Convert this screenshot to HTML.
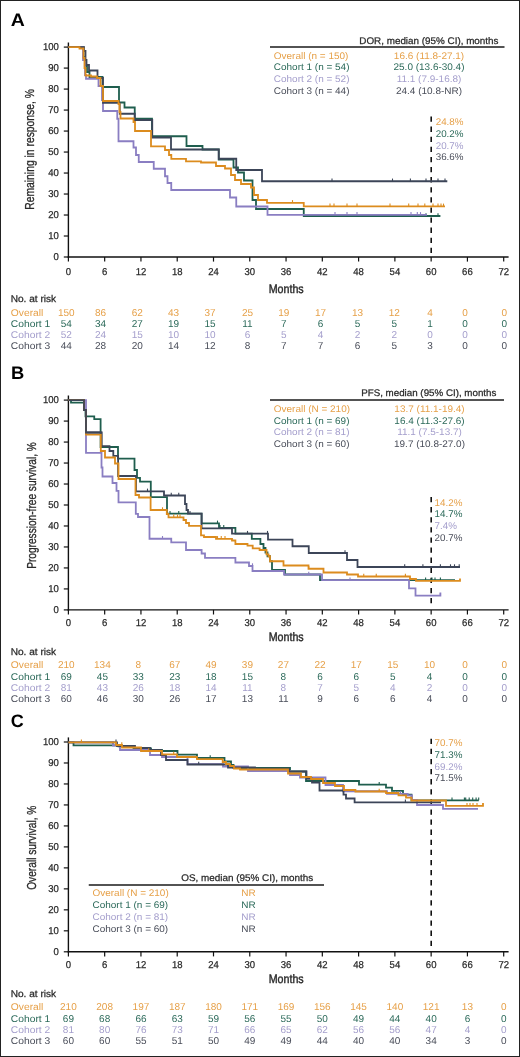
<!DOCTYPE html>
<html><head><meta charset="utf-8"><title>KM curves</title>
<style>
html,body{margin:0;padding:0;background:#fff;}
body{width:520px;height:1057px;overflow:hidden;}
svg{display:block;font-family:"Liberation Sans", sans-serif;will-change:transform;text-rendering:geometricPrecision;}
</style></head>
<body>
<svg width="520" height="1057" viewBox="0 0 520 1057">
<rect x="0.5" y="0.5" width="519" height="1056" fill="#fff" stroke="#222" stroke-width="1"/>
<text transform="translate(10.80 25.60) scale(1.08 1)" font-size="18" fill="#000" font-weight="bold">A</text>
<line x1="68.40" y1="42.50" x2="68.40" y2="257.65" stroke="#111" stroke-width="1.4"/>
<line x1="67.70" y1="257.00" x2="508.60" y2="257.00" stroke="#111" stroke-width="1.4"/>
<line x1="63.80" y1="257.00" x2="68.40" y2="257.00" stroke="#111" stroke-width="1.2"/>
<text x="58.80" y="260.30" font-size="10" fill="#2a2a2a" text-anchor="end" textLength="5.3" lengthAdjust="spacingAndGlyphs" stroke="#2a2a2a" stroke-width="0.25">0</text>
<line x1="63.80" y1="236.01" x2="68.40" y2="236.01" stroke="#111" stroke-width="1.2"/>
<text x="58.80" y="239.31" font-size="10" fill="#2a2a2a" text-anchor="end" textLength="10.6" lengthAdjust="spacingAndGlyphs" stroke="#2a2a2a" stroke-width="0.25">10</text>
<line x1="63.80" y1="215.02" x2="68.40" y2="215.02" stroke="#111" stroke-width="1.2"/>
<text x="58.80" y="218.32" font-size="10" fill="#2a2a2a" text-anchor="end" textLength="10.6" lengthAdjust="spacingAndGlyphs" stroke="#2a2a2a" stroke-width="0.25">20</text>
<line x1="63.80" y1="194.03" x2="68.40" y2="194.03" stroke="#111" stroke-width="1.2"/>
<text x="58.80" y="197.33" font-size="10" fill="#2a2a2a" text-anchor="end" textLength="10.6" lengthAdjust="spacingAndGlyphs" stroke="#2a2a2a" stroke-width="0.25">30</text>
<line x1="63.80" y1="173.04" x2="68.40" y2="173.04" stroke="#111" stroke-width="1.2"/>
<text x="58.80" y="176.34" font-size="10" fill="#2a2a2a" text-anchor="end" textLength="10.6" lengthAdjust="spacingAndGlyphs" stroke="#2a2a2a" stroke-width="0.25">40</text>
<line x1="63.80" y1="152.05" x2="68.40" y2="152.05" stroke="#111" stroke-width="1.2"/>
<text x="58.80" y="155.35" font-size="10" fill="#2a2a2a" text-anchor="end" textLength="10.6" lengthAdjust="spacingAndGlyphs" stroke="#2a2a2a" stroke-width="0.25">50</text>
<line x1="63.80" y1="131.06" x2="68.40" y2="131.06" stroke="#111" stroke-width="1.2"/>
<text x="58.80" y="134.36" font-size="10" fill="#2a2a2a" text-anchor="end" textLength="10.6" lengthAdjust="spacingAndGlyphs" stroke="#2a2a2a" stroke-width="0.25">60</text>
<line x1="63.80" y1="110.07" x2="68.40" y2="110.07" stroke="#111" stroke-width="1.2"/>
<text x="58.80" y="113.37" font-size="10" fill="#2a2a2a" text-anchor="end" textLength="10.6" lengthAdjust="spacingAndGlyphs" stroke="#2a2a2a" stroke-width="0.25">70</text>
<line x1="63.80" y1="89.08" x2="68.40" y2="89.08" stroke="#111" stroke-width="1.2"/>
<text x="58.80" y="92.38" font-size="10" fill="#2a2a2a" text-anchor="end" textLength="10.6" lengthAdjust="spacingAndGlyphs" stroke="#2a2a2a" stroke-width="0.25">80</text>
<line x1="63.80" y1="68.09" x2="68.40" y2="68.09" stroke="#111" stroke-width="1.2"/>
<text x="58.80" y="71.39" font-size="10" fill="#2a2a2a" text-anchor="end" textLength="10.6" lengthAdjust="spacingAndGlyphs" stroke="#2a2a2a" stroke-width="0.25">90</text>
<line x1="63.80" y1="47.10" x2="68.40" y2="47.10" stroke="#111" stroke-width="1.2"/>
<text x="58.80" y="50.40" font-size="10" fill="#2a2a2a" text-anchor="end" textLength="15.899999999999999" lengthAdjust="spacingAndGlyphs" stroke="#2a2a2a" stroke-width="0.25">100</text>
<line x1="68.40" y1="257.00" x2="68.40" y2="261.60" stroke="#111" stroke-width="1.2"/>
<text x="68.40" y="274.90" font-size="10" fill="#2a2a2a" text-anchor="middle" textLength="5.3" lengthAdjust="spacingAndGlyphs" stroke="#2a2a2a" stroke-width="0.25">0</text>
<line x1="104.67" y1="257.00" x2="104.67" y2="261.60" stroke="#111" stroke-width="1.2"/>
<text x="104.67" y="274.90" font-size="10" fill="#2a2a2a" text-anchor="middle" textLength="5.3" lengthAdjust="spacingAndGlyphs" stroke="#2a2a2a" stroke-width="0.25">6</text>
<line x1="140.95" y1="257.00" x2="140.95" y2="261.60" stroke="#111" stroke-width="1.2"/>
<text x="140.95" y="274.90" font-size="10" fill="#2a2a2a" text-anchor="middle" textLength="10.6" lengthAdjust="spacingAndGlyphs" stroke="#2a2a2a" stroke-width="0.25">12</text>
<line x1="177.22" y1="257.00" x2="177.22" y2="261.60" stroke="#111" stroke-width="1.2"/>
<text x="177.22" y="274.90" font-size="10" fill="#2a2a2a" text-anchor="middle" textLength="10.6" lengthAdjust="spacingAndGlyphs" stroke="#2a2a2a" stroke-width="0.25">18</text>
<line x1="213.50" y1="257.00" x2="213.50" y2="261.60" stroke="#111" stroke-width="1.2"/>
<text x="213.50" y="274.90" font-size="10" fill="#2a2a2a" text-anchor="middle" textLength="10.6" lengthAdjust="spacingAndGlyphs" stroke="#2a2a2a" stroke-width="0.25">24</text>
<line x1="249.77" y1="257.00" x2="249.77" y2="261.60" stroke="#111" stroke-width="1.2"/>
<text x="249.77" y="274.90" font-size="10" fill="#2a2a2a" text-anchor="middle" textLength="10.6" lengthAdjust="spacingAndGlyphs" stroke="#2a2a2a" stroke-width="0.25">30</text>
<line x1="286.05" y1="257.00" x2="286.05" y2="261.60" stroke="#111" stroke-width="1.2"/>
<text x="286.05" y="274.90" font-size="10" fill="#2a2a2a" text-anchor="middle" textLength="10.6" lengthAdjust="spacingAndGlyphs" stroke="#2a2a2a" stroke-width="0.25">36</text>
<line x1="322.32" y1="257.00" x2="322.32" y2="261.60" stroke="#111" stroke-width="1.2"/>
<text x="322.32" y="274.90" font-size="10" fill="#2a2a2a" text-anchor="middle" textLength="10.6" lengthAdjust="spacingAndGlyphs" stroke="#2a2a2a" stroke-width="0.25">42</text>
<line x1="358.60" y1="257.00" x2="358.60" y2="261.60" stroke="#111" stroke-width="1.2"/>
<text x="358.60" y="274.90" font-size="10" fill="#2a2a2a" text-anchor="middle" textLength="10.6" lengthAdjust="spacingAndGlyphs" stroke="#2a2a2a" stroke-width="0.25">48</text>
<line x1="394.88" y1="257.00" x2="394.88" y2="261.60" stroke="#111" stroke-width="1.2"/>
<text x="394.88" y="274.90" font-size="10" fill="#2a2a2a" text-anchor="middle" textLength="10.6" lengthAdjust="spacingAndGlyphs" stroke="#2a2a2a" stroke-width="0.25">54</text>
<line x1="431.15" y1="257.00" x2="431.15" y2="261.60" stroke="#111" stroke-width="1.2"/>
<text x="431.15" y="274.90" font-size="10" fill="#2a2a2a" text-anchor="middle" textLength="10.6" lengthAdjust="spacingAndGlyphs" stroke="#2a2a2a" stroke-width="0.25">60</text>
<line x1="467.42" y1="257.00" x2="467.42" y2="261.60" stroke="#111" stroke-width="1.2"/>
<text x="467.42" y="274.90" font-size="10" fill="#2a2a2a" text-anchor="middle" textLength="10.6" lengthAdjust="spacingAndGlyphs" stroke="#2a2a2a" stroke-width="0.25">66</text>
<line x1="503.70" y1="257.00" x2="503.70" y2="261.60" stroke="#111" stroke-width="1.2"/>
<text x="503.70" y="274.90" font-size="10" fill="#2a2a2a" text-anchor="middle" textLength="10.6" lengthAdjust="spacingAndGlyphs" stroke="#2a2a2a" stroke-width="0.25">72</text>
<text x="286.20" y="293.00" font-size="12.3" fill="#2a2a2a" text-anchor="middle" textLength="35" lengthAdjust="spacingAndGlyphs" stroke="#2a2a2a" stroke-width="0.4">Months</text>
<text x="0" y="0" font-size="13" fill="#2a2a2a" stroke="#2a2a2a" stroke-width="0.3" textLength="120.8" lengthAdjust="spacingAndGlyphs" transform="translate(34.20,209.80) rotate(-90)">Remaining in response, %</text>
<line x1="270.00" y1="47.00" x2="504.50" y2="47.00" stroke="#1a1a1a" stroke-width="1.4"/>
<text x="428.90" y="43.50" font-size="9.6" fill="#2a2a2a" text-anchor="middle" textLength="139.2" lengthAdjust="spacingAndGlyphs" stroke="#2a2a2a" stroke-width="0.25">DOR, median (95% CI), months</text>
<text transform="translate(273.80 58.60) scale(1.05 1)" font-size="9.5" fill="#e6a048">Overall (n = 150)</text>
<text transform="translate(429.00 58.60) scale(1.05 1)" font-size="9.5" fill="#e6a048" text-anchor="middle">16.6 (11.8-27.1)</text>
<text transform="translate(273.80 70.30) scale(1.05 1)" font-size="9.5" fill="#2c6a5a">Cohort 1 (n = 54)</text>
<text transform="translate(429.00 70.30) scale(1.05 1)" font-size="9.5" fill="#2c6a5a" text-anchor="middle">25.0 (13.6-30.4)</text>
<text transform="translate(273.80 82.00) scale(1.05 1)" font-size="9.5" fill="#a49ecc">Cohort 2 (n = 52)</text>
<text transform="translate(429.00 82.00) scale(1.05 1)" font-size="9.5" fill="#a49ecc" text-anchor="middle">11.1 (7.9-16.8)</text>
<text transform="translate(273.80 93.70) scale(1.05 1)" font-size="9.5" fill="#4a4e5a">Cohort 3 (n = 44)</text>
<text transform="translate(429.00 93.70) scale(1.05 1)" font-size="9.5" fill="#4a4e5a" text-anchor="middle">24.4 (10.8-NR)</text>
<line x1="431.2" y1="116.5" x2="431.2" y2="253" stroke="#111" stroke-width="1.6" stroke-dasharray="5.3 4.8"/>
<text x="435.70" y="124.90" font-size="9.8" fill="#e6a048">24.8%</text>
<text x="435.70" y="136.70" font-size="9.8" fill="#2c6a5a">20.2%</text>
<text x="435.70" y="148.50" font-size="9.8" fill="#a49ecc">20.7%</text>
<text x="435.70" y="160.30" font-size="9.8" fill="#4a4e5a">36.6%</text>
<text transform="translate(10.90 378.50) scale(1.02 1)" font-size="18" fill="#000" font-weight="bold">B</text>
<line x1="68.40" y1="395.50" x2="68.40" y2="610.55" stroke="#111" stroke-width="1.4"/>
<line x1="67.70" y1="609.90" x2="508.60" y2="609.90" stroke="#111" stroke-width="1.4"/>
<line x1="63.80" y1="609.90" x2="68.40" y2="609.90" stroke="#111" stroke-width="1.2"/>
<text x="58.80" y="613.20" font-size="10" fill="#2a2a2a" text-anchor="end" textLength="5.3" lengthAdjust="spacingAndGlyphs" stroke="#2a2a2a" stroke-width="0.25">0</text>
<line x1="63.80" y1="588.92" x2="68.40" y2="588.92" stroke="#111" stroke-width="1.2"/>
<text x="58.80" y="592.22" font-size="10" fill="#2a2a2a" text-anchor="end" textLength="10.6" lengthAdjust="spacingAndGlyphs" stroke="#2a2a2a" stroke-width="0.25">10</text>
<line x1="63.80" y1="567.94" x2="68.40" y2="567.94" stroke="#111" stroke-width="1.2"/>
<text x="58.80" y="571.24" font-size="10" fill="#2a2a2a" text-anchor="end" textLength="10.6" lengthAdjust="spacingAndGlyphs" stroke="#2a2a2a" stroke-width="0.25">20</text>
<line x1="63.80" y1="546.96" x2="68.40" y2="546.96" stroke="#111" stroke-width="1.2"/>
<text x="58.80" y="550.26" font-size="10" fill="#2a2a2a" text-anchor="end" textLength="10.6" lengthAdjust="spacingAndGlyphs" stroke="#2a2a2a" stroke-width="0.25">30</text>
<line x1="63.80" y1="525.98" x2="68.40" y2="525.98" stroke="#111" stroke-width="1.2"/>
<text x="58.80" y="529.28" font-size="10" fill="#2a2a2a" text-anchor="end" textLength="10.6" lengthAdjust="spacingAndGlyphs" stroke="#2a2a2a" stroke-width="0.25">40</text>
<line x1="63.80" y1="505.00" x2="68.40" y2="505.00" stroke="#111" stroke-width="1.2"/>
<text x="58.80" y="508.30" font-size="10" fill="#2a2a2a" text-anchor="end" textLength="10.6" lengthAdjust="spacingAndGlyphs" stroke="#2a2a2a" stroke-width="0.25">50</text>
<line x1="63.80" y1="484.02" x2="68.40" y2="484.02" stroke="#111" stroke-width="1.2"/>
<text x="58.80" y="487.32" font-size="10" fill="#2a2a2a" text-anchor="end" textLength="10.6" lengthAdjust="spacingAndGlyphs" stroke="#2a2a2a" stroke-width="0.25">60</text>
<line x1="63.80" y1="463.04" x2="68.40" y2="463.04" stroke="#111" stroke-width="1.2"/>
<text x="58.80" y="466.34" font-size="10" fill="#2a2a2a" text-anchor="end" textLength="10.6" lengthAdjust="spacingAndGlyphs" stroke="#2a2a2a" stroke-width="0.25">70</text>
<line x1="63.80" y1="442.06" x2="68.40" y2="442.06" stroke="#111" stroke-width="1.2"/>
<text x="58.80" y="445.36" font-size="10" fill="#2a2a2a" text-anchor="end" textLength="10.6" lengthAdjust="spacingAndGlyphs" stroke="#2a2a2a" stroke-width="0.25">80</text>
<line x1="63.80" y1="421.08" x2="68.40" y2="421.08" stroke="#111" stroke-width="1.2"/>
<text x="58.80" y="424.38" font-size="10" fill="#2a2a2a" text-anchor="end" textLength="10.6" lengthAdjust="spacingAndGlyphs" stroke="#2a2a2a" stroke-width="0.25">90</text>
<line x1="63.80" y1="400.10" x2="68.40" y2="400.10" stroke="#111" stroke-width="1.2"/>
<text x="58.80" y="403.40" font-size="10" fill="#2a2a2a" text-anchor="end" textLength="15.899999999999999" lengthAdjust="spacingAndGlyphs" stroke="#2a2a2a" stroke-width="0.25">100</text>
<line x1="68.40" y1="609.90" x2="68.40" y2="614.50" stroke="#111" stroke-width="1.2"/>
<text x="68.40" y="626.10" font-size="10" fill="#2a2a2a" text-anchor="middle" textLength="5.3" lengthAdjust="spacingAndGlyphs" stroke="#2a2a2a" stroke-width="0.25">0</text>
<line x1="104.67" y1="609.90" x2="104.67" y2="614.50" stroke="#111" stroke-width="1.2"/>
<text x="104.67" y="626.10" font-size="10" fill="#2a2a2a" text-anchor="middle" textLength="5.3" lengthAdjust="spacingAndGlyphs" stroke="#2a2a2a" stroke-width="0.25">6</text>
<line x1="140.95" y1="609.90" x2="140.95" y2="614.50" stroke="#111" stroke-width="1.2"/>
<text x="140.95" y="626.10" font-size="10" fill="#2a2a2a" text-anchor="middle" textLength="10.6" lengthAdjust="spacingAndGlyphs" stroke="#2a2a2a" stroke-width="0.25">12</text>
<line x1="177.22" y1="609.90" x2="177.22" y2="614.50" stroke="#111" stroke-width="1.2"/>
<text x="177.22" y="626.10" font-size="10" fill="#2a2a2a" text-anchor="middle" textLength="10.6" lengthAdjust="spacingAndGlyphs" stroke="#2a2a2a" stroke-width="0.25">18</text>
<line x1="213.50" y1="609.90" x2="213.50" y2="614.50" stroke="#111" stroke-width="1.2"/>
<text x="213.50" y="626.10" font-size="10" fill="#2a2a2a" text-anchor="middle" textLength="10.6" lengthAdjust="spacingAndGlyphs" stroke="#2a2a2a" stroke-width="0.25">24</text>
<line x1="249.77" y1="609.90" x2="249.77" y2="614.50" stroke="#111" stroke-width="1.2"/>
<text x="249.77" y="626.10" font-size="10" fill="#2a2a2a" text-anchor="middle" textLength="10.6" lengthAdjust="spacingAndGlyphs" stroke="#2a2a2a" stroke-width="0.25">30</text>
<line x1="286.05" y1="609.90" x2="286.05" y2="614.50" stroke="#111" stroke-width="1.2"/>
<text x="286.05" y="626.10" font-size="10" fill="#2a2a2a" text-anchor="middle" textLength="10.6" lengthAdjust="spacingAndGlyphs" stroke="#2a2a2a" stroke-width="0.25">36</text>
<line x1="322.32" y1="609.90" x2="322.32" y2="614.50" stroke="#111" stroke-width="1.2"/>
<text x="322.32" y="626.10" font-size="10" fill="#2a2a2a" text-anchor="middle" textLength="10.6" lengthAdjust="spacingAndGlyphs" stroke="#2a2a2a" stroke-width="0.25">42</text>
<line x1="358.60" y1="609.90" x2="358.60" y2="614.50" stroke="#111" stroke-width="1.2"/>
<text x="358.60" y="626.10" font-size="10" fill="#2a2a2a" text-anchor="middle" textLength="10.6" lengthAdjust="spacingAndGlyphs" stroke="#2a2a2a" stroke-width="0.25">48</text>
<line x1="394.88" y1="609.90" x2="394.88" y2="614.50" stroke="#111" stroke-width="1.2"/>
<text x="394.88" y="626.10" font-size="10" fill="#2a2a2a" text-anchor="middle" textLength="10.6" lengthAdjust="spacingAndGlyphs" stroke="#2a2a2a" stroke-width="0.25">54</text>
<line x1="431.15" y1="609.90" x2="431.15" y2="614.50" stroke="#111" stroke-width="1.2"/>
<text x="431.15" y="626.10" font-size="10" fill="#2a2a2a" text-anchor="middle" textLength="10.6" lengthAdjust="spacingAndGlyphs" stroke="#2a2a2a" stroke-width="0.25">60</text>
<line x1="467.42" y1="609.90" x2="467.42" y2="614.50" stroke="#111" stroke-width="1.2"/>
<text x="467.42" y="626.10" font-size="10" fill="#2a2a2a" text-anchor="middle" textLength="10.6" lengthAdjust="spacingAndGlyphs" stroke="#2a2a2a" stroke-width="0.25">66</text>
<line x1="503.70" y1="609.90" x2="503.70" y2="614.50" stroke="#111" stroke-width="1.2"/>
<text x="503.70" y="626.10" font-size="10" fill="#2a2a2a" text-anchor="middle" textLength="10.6" lengthAdjust="spacingAndGlyphs" stroke="#2a2a2a" stroke-width="0.25">72</text>
<text x="286.20" y="640.70" font-size="12.3" fill="#2a2a2a" text-anchor="middle" textLength="35" lengthAdjust="spacingAndGlyphs" stroke="#2a2a2a" stroke-width="0.4">Months</text>
<text x="0" y="0" font-size="13" fill="#2a2a2a" stroke="#2a2a2a" stroke-width="0.3" textLength="126.6" lengthAdjust="spacingAndGlyphs" transform="translate(35.80,568.80) rotate(-90)">Progression-free survival, %</text>
<line x1="270.00" y1="400.00" x2="504.00" y2="400.00" stroke="#1a1a1a" stroke-width="1.4"/>
<text x="428.80" y="396.30" font-size="9.6" fill="#2a2a2a" text-anchor="middle" textLength="135.2" lengthAdjust="spacingAndGlyphs" stroke="#2a2a2a" stroke-width="0.25">PFS, median (95% CI), months</text>
<text transform="translate(273.80 411.80) scale(1.05 1)" font-size="9.5" fill="#e6a048">Overall (N = 210)</text>
<text transform="translate(429.50 411.80) scale(1.05 1)" font-size="9.5" fill="#e6a048" text-anchor="middle">13.7 (11.1-19.4)</text>
<text transform="translate(273.80 423.50) scale(1.05 1)" font-size="9.5" fill="#2c6a5a">Cohort 1 (n = 69)</text>
<text transform="translate(429.50 423.50) scale(1.05 1)" font-size="9.5" fill="#2c6a5a" text-anchor="middle">16.4 (11.3-27.6)</text>
<text transform="translate(273.80 435.20) scale(1.05 1)" font-size="9.5" fill="#a49ecc">Cohort 2 (n = 81)</text>
<text transform="translate(429.50 435.20) scale(1.05 1)" font-size="9.5" fill="#a49ecc" text-anchor="middle">11.1 (7.5-13.7)</text>
<text transform="translate(273.80 446.90) scale(1.05 1)" font-size="9.5" fill="#4a4e5a">Cohort 3 (n = 60)</text>
<text transform="translate(429.50 446.90) scale(1.05 1)" font-size="9.5" fill="#4a4e5a" text-anchor="middle">19.7 (10.8-27.0)</text>
<line x1="431.2" y1="497.0" x2="431.2" y2="606" stroke="#111" stroke-width="1.6" stroke-dasharray="5.3 4.8"/>
<text x="434.60" y="505.50" font-size="9.8" fill="#e6a048">14.2%</text>
<text x="434.60" y="517.40" font-size="9.8" fill="#2c6a5a">14.7%</text>
<text x="434.60" y="529.30" font-size="9.8" fill="#a49ecc">7.4%</text>
<text x="434.60" y="541.20" font-size="9.8" fill="#4a4e5a">20.7%</text>
<text transform="translate(10.70 727.30) scale(1.0 1)" font-size="18" fill="#000" font-weight="bold">C</text>
<line x1="68.40" y1="737.40" x2="68.40" y2="952.45" stroke="#111" stroke-width="1.4"/>
<line x1="67.70" y1="951.80" x2="508.60" y2="951.80" stroke="#111" stroke-width="1.4"/>
<line x1="63.80" y1="951.80" x2="68.40" y2="951.80" stroke="#111" stroke-width="1.2"/>
<text x="58.80" y="955.10" font-size="10" fill="#2a2a2a" text-anchor="end" textLength="5.3" lengthAdjust="spacingAndGlyphs" stroke="#2a2a2a" stroke-width="0.25">0</text>
<line x1="63.80" y1="930.82" x2="68.40" y2="930.82" stroke="#111" stroke-width="1.2"/>
<text x="58.80" y="934.12" font-size="10" fill="#2a2a2a" text-anchor="end" textLength="10.6" lengthAdjust="spacingAndGlyphs" stroke="#2a2a2a" stroke-width="0.25">10</text>
<line x1="63.80" y1="909.84" x2="68.40" y2="909.84" stroke="#111" stroke-width="1.2"/>
<text x="58.80" y="913.14" font-size="10" fill="#2a2a2a" text-anchor="end" textLength="10.6" lengthAdjust="spacingAndGlyphs" stroke="#2a2a2a" stroke-width="0.25">20</text>
<line x1="63.80" y1="888.86" x2="68.40" y2="888.86" stroke="#111" stroke-width="1.2"/>
<text x="58.80" y="892.16" font-size="10" fill="#2a2a2a" text-anchor="end" textLength="10.6" lengthAdjust="spacingAndGlyphs" stroke="#2a2a2a" stroke-width="0.25">30</text>
<line x1="63.80" y1="867.88" x2="68.40" y2="867.88" stroke="#111" stroke-width="1.2"/>
<text x="58.80" y="871.18" font-size="10" fill="#2a2a2a" text-anchor="end" textLength="10.6" lengthAdjust="spacingAndGlyphs" stroke="#2a2a2a" stroke-width="0.25">40</text>
<line x1="63.80" y1="846.90" x2="68.40" y2="846.90" stroke="#111" stroke-width="1.2"/>
<text x="58.80" y="850.20" font-size="10" fill="#2a2a2a" text-anchor="end" textLength="10.6" lengthAdjust="spacingAndGlyphs" stroke="#2a2a2a" stroke-width="0.25">50</text>
<line x1="63.80" y1="825.92" x2="68.40" y2="825.92" stroke="#111" stroke-width="1.2"/>
<text x="58.80" y="829.22" font-size="10" fill="#2a2a2a" text-anchor="end" textLength="10.6" lengthAdjust="spacingAndGlyphs" stroke="#2a2a2a" stroke-width="0.25">60</text>
<line x1="63.80" y1="804.94" x2="68.40" y2="804.94" stroke="#111" stroke-width="1.2"/>
<text x="58.80" y="808.24" font-size="10" fill="#2a2a2a" text-anchor="end" textLength="10.6" lengthAdjust="spacingAndGlyphs" stroke="#2a2a2a" stroke-width="0.25">70</text>
<line x1="63.80" y1="783.96" x2="68.40" y2="783.96" stroke="#111" stroke-width="1.2"/>
<text x="58.80" y="787.26" font-size="10" fill="#2a2a2a" text-anchor="end" textLength="10.6" lengthAdjust="spacingAndGlyphs" stroke="#2a2a2a" stroke-width="0.25">80</text>
<line x1="63.80" y1="762.98" x2="68.40" y2="762.98" stroke="#111" stroke-width="1.2"/>
<text x="58.80" y="766.28" font-size="10" fill="#2a2a2a" text-anchor="end" textLength="10.6" lengthAdjust="spacingAndGlyphs" stroke="#2a2a2a" stroke-width="0.25">90</text>
<line x1="63.80" y1="742.00" x2="68.40" y2="742.00" stroke="#111" stroke-width="1.2"/>
<text x="58.80" y="745.30" font-size="10" fill="#2a2a2a" text-anchor="end" textLength="15.899999999999999" lengthAdjust="spacingAndGlyphs" stroke="#2a2a2a" stroke-width="0.25">100</text>
<line x1="68.40" y1="951.80" x2="68.40" y2="956.40" stroke="#111" stroke-width="1.2"/>
<text x="68.40" y="967.50" font-size="10" fill="#2a2a2a" text-anchor="middle" textLength="5.3" lengthAdjust="spacingAndGlyphs" stroke="#2a2a2a" stroke-width="0.25">0</text>
<line x1="104.67" y1="951.80" x2="104.67" y2="956.40" stroke="#111" stroke-width="1.2"/>
<text x="104.67" y="967.50" font-size="10" fill="#2a2a2a" text-anchor="middle" textLength="5.3" lengthAdjust="spacingAndGlyphs" stroke="#2a2a2a" stroke-width="0.25">6</text>
<line x1="140.95" y1="951.80" x2="140.95" y2="956.40" stroke="#111" stroke-width="1.2"/>
<text x="140.95" y="967.50" font-size="10" fill="#2a2a2a" text-anchor="middle" textLength="10.6" lengthAdjust="spacingAndGlyphs" stroke="#2a2a2a" stroke-width="0.25">12</text>
<line x1="177.22" y1="951.80" x2="177.22" y2="956.40" stroke="#111" stroke-width="1.2"/>
<text x="177.22" y="967.50" font-size="10" fill="#2a2a2a" text-anchor="middle" textLength="10.6" lengthAdjust="spacingAndGlyphs" stroke="#2a2a2a" stroke-width="0.25">18</text>
<line x1="213.50" y1="951.80" x2="213.50" y2="956.40" stroke="#111" stroke-width="1.2"/>
<text x="213.50" y="967.50" font-size="10" fill="#2a2a2a" text-anchor="middle" textLength="10.6" lengthAdjust="spacingAndGlyphs" stroke="#2a2a2a" stroke-width="0.25">24</text>
<line x1="249.77" y1="951.80" x2="249.77" y2="956.40" stroke="#111" stroke-width="1.2"/>
<text x="249.77" y="967.50" font-size="10" fill="#2a2a2a" text-anchor="middle" textLength="10.6" lengthAdjust="spacingAndGlyphs" stroke="#2a2a2a" stroke-width="0.25">30</text>
<line x1="286.05" y1="951.80" x2="286.05" y2="956.40" stroke="#111" stroke-width="1.2"/>
<text x="286.05" y="967.50" font-size="10" fill="#2a2a2a" text-anchor="middle" textLength="10.6" lengthAdjust="spacingAndGlyphs" stroke="#2a2a2a" stroke-width="0.25">36</text>
<line x1="322.32" y1="951.80" x2="322.32" y2="956.40" stroke="#111" stroke-width="1.2"/>
<text x="322.32" y="967.50" font-size="10" fill="#2a2a2a" text-anchor="middle" textLength="10.6" lengthAdjust="spacingAndGlyphs" stroke="#2a2a2a" stroke-width="0.25">42</text>
<line x1="358.60" y1="951.80" x2="358.60" y2="956.40" stroke="#111" stroke-width="1.2"/>
<text x="358.60" y="967.50" font-size="10" fill="#2a2a2a" text-anchor="middle" textLength="10.6" lengthAdjust="spacingAndGlyphs" stroke="#2a2a2a" stroke-width="0.25">48</text>
<line x1="394.88" y1="951.80" x2="394.88" y2="956.40" stroke="#111" stroke-width="1.2"/>
<text x="394.88" y="967.50" font-size="10" fill="#2a2a2a" text-anchor="middle" textLength="10.6" lengthAdjust="spacingAndGlyphs" stroke="#2a2a2a" stroke-width="0.25">54</text>
<line x1="431.15" y1="951.80" x2="431.15" y2="956.40" stroke="#111" stroke-width="1.2"/>
<text x="431.15" y="967.50" font-size="10" fill="#2a2a2a" text-anchor="middle" textLength="10.6" lengthAdjust="spacingAndGlyphs" stroke="#2a2a2a" stroke-width="0.25">60</text>
<line x1="467.42" y1="951.80" x2="467.42" y2="956.40" stroke="#111" stroke-width="1.2"/>
<text x="467.42" y="967.50" font-size="10" fill="#2a2a2a" text-anchor="middle" textLength="10.6" lengthAdjust="spacingAndGlyphs" stroke="#2a2a2a" stroke-width="0.25">66</text>
<line x1="503.70" y1="951.80" x2="503.70" y2="956.40" stroke="#111" stroke-width="1.2"/>
<text x="503.70" y="967.50" font-size="10" fill="#2a2a2a" text-anchor="middle" textLength="10.6" lengthAdjust="spacingAndGlyphs" stroke="#2a2a2a" stroke-width="0.25">72</text>
<text x="286.20" y="983.00" font-size="12.3" fill="#2a2a2a" text-anchor="middle" textLength="35" lengthAdjust="spacingAndGlyphs" stroke="#2a2a2a" stroke-width="0.4">Months</text>
<text x="0" y="0" font-size="13" fill="#2a2a2a" stroke="#2a2a2a" stroke-width="0.3" textLength="84.2" lengthAdjust="spacingAndGlyphs" transform="translate(36.40,889.80) rotate(-90)">Overall survival, %</text>
<line x1="88.75" y1="885.00" x2="324.00" y2="885.00" stroke="#1a1a1a" stroke-width="1.4"/>
<text x="247.20" y="881.30" font-size="9.6" fill="#2a2a2a" text-anchor="middle" textLength="132.0" lengthAdjust="spacingAndGlyphs" stroke="#2a2a2a" stroke-width="0.25">OS, median (95% CI), months</text>
<text transform="translate(92.50 896.30) scale(1.05 1)" font-size="9.5" fill="#e6a048">Overall (N = 210)</text>
<text transform="translate(248.50 896.30) scale(1.05 1)" font-size="9.5" fill="#e6a048" text-anchor="middle">NR</text>
<text transform="translate(92.50 908.20) scale(1.05 1)" font-size="9.5" fill="#2c6a5a">Cohort 1 (n = 69)</text>
<text transform="translate(248.50 908.20) scale(1.05 1)" font-size="9.5" fill="#2c6a5a" text-anchor="middle">NR</text>
<text transform="translate(92.50 920.10) scale(1.05 1)" font-size="9.5" fill="#a49ecc">Cohort 2 (n = 81)</text>
<text transform="translate(248.50 920.10) scale(1.05 1)" font-size="9.5" fill="#a49ecc" text-anchor="middle">NR</text>
<text transform="translate(92.50 932.00) scale(1.05 1)" font-size="9.5" fill="#4a4e5a">Cohort 3 (n = 60)</text>
<text transform="translate(248.50 932.00) scale(1.05 1)" font-size="9.5" fill="#4a4e5a" text-anchor="middle">NR</text>
<line x1="431.2" y1="738.7" x2="431.2" y2="948" stroke="#111" stroke-width="1.6" stroke-dasharray="5.3 4.8"/>
<text x="434.60" y="746.30" font-size="9.8" fill="#e6a048">70.7%</text>
<text x="434.60" y="757.95" font-size="9.8" fill="#2c6a5a">71.3%</text>
<text x="434.60" y="769.60" font-size="9.8" fill="#a49ecc">69.2%</text>
<text x="434.60" y="781.25" font-size="9.8" fill="#4a4e5a">71.5%</text>
<text x="10.70" y="301.80" font-size="9.8" fill="#2a2a2a" textLength="45.5" lengthAdjust="spacingAndGlyphs" stroke="#2a2a2a" stroke-width="0.25">No. at risk</text>
<text transform="translate(10.80 315.60) scale(1.05 1)" font-size="9.8" fill="#e6a048">Overall</text>
<text x="66.30" y="315.60" font-size="10" fill="#e6a048" text-anchor="middle">150</text>
<text x="100.50" y="315.60" font-size="10" fill="#e6a048" text-anchor="middle">86</text>
<text x="137.20" y="315.60" font-size="10" fill="#e6a048" text-anchor="middle">62</text>
<text x="173.60" y="315.60" font-size="10" fill="#e6a048" text-anchor="middle">43</text>
<text x="210.10" y="315.60" font-size="10" fill="#e6a048" text-anchor="middle">37</text>
<text x="247.50" y="315.60" font-size="10" fill="#e6a048" text-anchor="middle">25</text>
<text x="283.80" y="315.60" font-size="10" fill="#e6a048" text-anchor="middle">19</text>
<text x="320.50" y="315.60" font-size="10" fill="#e6a048" text-anchor="middle">17</text>
<text x="357.50" y="315.60" font-size="10" fill="#e6a048" text-anchor="middle">13</text>
<text x="394.20" y="315.60" font-size="10" fill="#e6a048" text-anchor="middle">12</text>
<text x="430.10" y="315.60" font-size="10" fill="#e6a048" text-anchor="middle">4</text>
<text x="465.10" y="315.60" font-size="10" fill="#e6a048" text-anchor="middle">0</text>
<text x="504.20" y="315.60" font-size="10" fill="#e6a048" text-anchor="middle">0</text>
<text transform="translate(10.80 326.80) scale(1.05 1)" font-size="9.8" fill="#2c6a5a">Cohort 1</text>
<text x="66.30" y="326.80" font-size="10" fill="#2c6a5a" text-anchor="middle">54</text>
<text x="100.50" y="326.80" font-size="10" fill="#2c6a5a" text-anchor="middle">34</text>
<text x="137.20" y="326.80" font-size="10" fill="#2c6a5a" text-anchor="middle">27</text>
<text x="173.60" y="326.80" font-size="10" fill="#2c6a5a" text-anchor="middle">19</text>
<text x="210.10" y="326.80" font-size="10" fill="#2c6a5a" text-anchor="middle">15</text>
<text x="247.50" y="326.80" font-size="10" fill="#2c6a5a" text-anchor="middle">11</text>
<text x="283.80" y="326.80" font-size="10" fill="#2c6a5a" text-anchor="middle">7</text>
<text x="320.50" y="326.80" font-size="10" fill="#2c6a5a" text-anchor="middle">6</text>
<text x="357.50" y="326.80" font-size="10" fill="#2c6a5a" text-anchor="middle">5</text>
<text x="394.20" y="326.80" font-size="10" fill="#2c6a5a" text-anchor="middle">5</text>
<text x="430.10" y="326.80" font-size="10" fill="#2c6a5a" text-anchor="middle">1</text>
<text x="465.10" y="326.80" font-size="10" fill="#2c6a5a" text-anchor="middle">0</text>
<text x="504.20" y="326.80" font-size="10" fill="#2c6a5a" text-anchor="middle">0</text>
<text transform="translate(10.80 338.00) scale(1.05 1)" font-size="9.8" fill="#a49ecc">Cohort 2</text>
<text x="66.30" y="338.00" font-size="10" fill="#a49ecc" text-anchor="middle">52</text>
<text x="100.50" y="338.00" font-size="10" fill="#a49ecc" text-anchor="middle">24</text>
<text x="137.20" y="338.00" font-size="10" fill="#a49ecc" text-anchor="middle">15</text>
<text x="173.60" y="338.00" font-size="10" fill="#a49ecc" text-anchor="middle">10</text>
<text x="210.10" y="338.00" font-size="10" fill="#a49ecc" text-anchor="middle">10</text>
<text x="247.50" y="338.00" font-size="10" fill="#a49ecc" text-anchor="middle">6</text>
<text x="283.80" y="338.00" font-size="10" fill="#a49ecc" text-anchor="middle">5</text>
<text x="320.50" y="338.00" font-size="10" fill="#a49ecc" text-anchor="middle">4</text>
<text x="357.50" y="338.00" font-size="10" fill="#a49ecc" text-anchor="middle">2</text>
<text x="394.20" y="338.00" font-size="10" fill="#a49ecc" text-anchor="middle">2</text>
<text x="430.10" y="338.00" font-size="10" fill="#a49ecc" text-anchor="middle">0</text>
<text x="465.10" y="338.00" font-size="10" fill="#a49ecc" text-anchor="middle">0</text>
<text x="504.20" y="338.00" font-size="10" fill="#a49ecc" text-anchor="middle">0</text>
<text transform="translate(10.80 349.20) scale(1.05 1)" font-size="9.8" fill="#4a4e5a">Cohort 3</text>
<text x="66.30" y="349.20" font-size="10" fill="#4a4e5a" text-anchor="middle">44</text>
<text x="100.50" y="349.20" font-size="10" fill="#4a4e5a" text-anchor="middle">28</text>
<text x="137.20" y="349.20" font-size="10" fill="#4a4e5a" text-anchor="middle">20</text>
<text x="173.60" y="349.20" font-size="10" fill="#4a4e5a" text-anchor="middle">14</text>
<text x="210.10" y="349.20" font-size="10" fill="#4a4e5a" text-anchor="middle">12</text>
<text x="247.50" y="349.20" font-size="10" fill="#4a4e5a" text-anchor="middle">8</text>
<text x="283.80" y="349.20" font-size="10" fill="#4a4e5a" text-anchor="middle">7</text>
<text x="320.50" y="349.20" font-size="10" fill="#4a4e5a" text-anchor="middle">7</text>
<text x="357.50" y="349.20" font-size="10" fill="#4a4e5a" text-anchor="middle">6</text>
<text x="394.20" y="349.20" font-size="10" fill="#4a4e5a" text-anchor="middle">5</text>
<text x="430.10" y="349.20" font-size="10" fill="#4a4e5a" text-anchor="middle">3</text>
<text x="465.10" y="349.20" font-size="10" fill="#4a4e5a" text-anchor="middle">0</text>
<text x="504.20" y="349.20" font-size="10" fill="#4a4e5a" text-anchor="middle">0</text>
<text x="10.70" y="655.00" font-size="9.8" fill="#2a2a2a" textLength="45.5" lengthAdjust="spacingAndGlyphs" stroke="#2a2a2a" stroke-width="0.25">No. at risk</text>
<text transform="translate(10.80 668.30) scale(1.05 1)" font-size="9.8" fill="#e6a048">Overall</text>
<text x="66.30" y="668.30" font-size="10" fill="#e6a048" text-anchor="middle">210</text>
<text x="102.40" y="668.30" font-size="10" fill="#e6a048" text-anchor="middle">134</text>
<text x="138.30" y="668.30" font-size="10" fill="#e6a048" text-anchor="middle">8</text>
<text x="174.80" y="668.30" font-size="10" fill="#e6a048" text-anchor="middle">67</text>
<text x="211.10" y="668.30" font-size="10" fill="#e6a048" text-anchor="middle">49</text>
<text x="247.40" y="668.30" font-size="10" fill="#e6a048" text-anchor="middle">39</text>
<text x="283.40" y="668.30" font-size="10" fill="#e6a048" text-anchor="middle">27</text>
<text x="320.00" y="668.30" font-size="10" fill="#e6a048" text-anchor="middle">22</text>
<text x="356.30" y="668.30" font-size="10" fill="#e6a048" text-anchor="middle">17</text>
<text x="392.80" y="668.30" font-size="10" fill="#e6a048" text-anchor="middle">15</text>
<text x="429.50" y="668.30" font-size="10" fill="#e6a048" text-anchor="middle">10</text>
<text x="465.10" y="668.30" font-size="10" fill="#e6a048" text-anchor="middle">0</text>
<text x="504.20" y="668.30" font-size="10" fill="#e6a048" text-anchor="middle">0</text>
<text transform="translate(10.80 679.50) scale(1.05 1)" font-size="9.8" fill="#2c6a5a">Cohort 1</text>
<text x="66.30" y="679.50" font-size="10" fill="#2c6a5a" text-anchor="middle">69</text>
<text x="102.40" y="679.50" font-size="10" fill="#2c6a5a" text-anchor="middle">45</text>
<text x="138.30" y="679.50" font-size="10" fill="#2c6a5a" text-anchor="middle">33</text>
<text x="174.80" y="679.50" font-size="10" fill="#2c6a5a" text-anchor="middle">23</text>
<text x="211.10" y="679.50" font-size="10" fill="#2c6a5a" text-anchor="middle">18</text>
<text x="247.40" y="679.50" font-size="10" fill="#2c6a5a" text-anchor="middle">15</text>
<text x="283.40" y="679.50" font-size="10" fill="#2c6a5a" text-anchor="middle">8</text>
<text x="320.00" y="679.50" font-size="10" fill="#2c6a5a" text-anchor="middle">6</text>
<text x="356.30" y="679.50" font-size="10" fill="#2c6a5a" text-anchor="middle">6</text>
<text x="392.80" y="679.50" font-size="10" fill="#2c6a5a" text-anchor="middle">5</text>
<text x="429.50" y="679.50" font-size="10" fill="#2c6a5a" text-anchor="middle">4</text>
<text x="465.10" y="679.50" font-size="10" fill="#2c6a5a" text-anchor="middle">0</text>
<text x="504.20" y="679.50" font-size="10" fill="#2c6a5a" text-anchor="middle">0</text>
<text transform="translate(10.80 690.70) scale(1.05 1)" font-size="9.8" fill="#a49ecc">Cohort 2</text>
<text x="66.30" y="690.70" font-size="10" fill="#a49ecc" text-anchor="middle">81</text>
<text x="102.40" y="690.70" font-size="10" fill="#a49ecc" text-anchor="middle">43</text>
<text x="138.30" y="690.70" font-size="10" fill="#a49ecc" text-anchor="middle">26</text>
<text x="174.80" y="690.70" font-size="10" fill="#a49ecc" text-anchor="middle">18</text>
<text x="211.10" y="690.70" font-size="10" fill="#a49ecc" text-anchor="middle">14</text>
<text x="247.40" y="690.70" font-size="10" fill="#a49ecc" text-anchor="middle">11</text>
<text x="283.40" y="690.70" font-size="10" fill="#a49ecc" text-anchor="middle">8</text>
<text x="320.00" y="690.70" font-size="10" fill="#a49ecc" text-anchor="middle">7</text>
<text x="356.30" y="690.70" font-size="10" fill="#a49ecc" text-anchor="middle">5</text>
<text x="392.80" y="690.70" font-size="10" fill="#a49ecc" text-anchor="middle">4</text>
<text x="429.50" y="690.70" font-size="10" fill="#a49ecc" text-anchor="middle">2</text>
<text x="465.10" y="690.70" font-size="10" fill="#a49ecc" text-anchor="middle">0</text>
<text x="504.20" y="690.70" font-size="10" fill="#a49ecc" text-anchor="middle">0</text>
<text transform="translate(10.80 701.90) scale(1.05 1)" font-size="9.8" fill="#4a4e5a">Cohort 3</text>
<text x="66.30" y="701.90" font-size="10" fill="#4a4e5a" text-anchor="middle">60</text>
<text x="102.40" y="701.90" font-size="10" fill="#4a4e5a" text-anchor="middle">46</text>
<text x="138.30" y="701.90" font-size="10" fill="#4a4e5a" text-anchor="middle">30</text>
<text x="174.80" y="701.90" font-size="10" fill="#4a4e5a" text-anchor="middle">26</text>
<text x="211.10" y="701.90" font-size="10" fill="#4a4e5a" text-anchor="middle">17</text>
<text x="247.40" y="701.90" font-size="10" fill="#4a4e5a" text-anchor="middle">13</text>
<text x="283.40" y="701.90" font-size="10" fill="#4a4e5a" text-anchor="middle">11</text>
<text x="320.00" y="701.90" font-size="10" fill="#4a4e5a" text-anchor="middle">9</text>
<text x="356.30" y="701.90" font-size="10" fill="#4a4e5a" text-anchor="middle">6</text>
<text x="392.80" y="701.90" font-size="10" fill="#4a4e5a" text-anchor="middle">6</text>
<text x="429.50" y="701.90" font-size="10" fill="#4a4e5a" text-anchor="middle">4</text>
<text x="465.10" y="701.90" font-size="10" fill="#4a4e5a" text-anchor="middle">0</text>
<text x="504.20" y="701.90" font-size="10" fill="#4a4e5a" text-anchor="middle">0</text>
<text x="10.70" y="997.00" font-size="9.8" fill="#2a2a2a" textLength="45.5" lengthAdjust="spacingAndGlyphs" stroke="#2a2a2a" stroke-width="0.25">No. at risk</text>
<text transform="translate(10.80 1010.30) scale(1.05 1)" font-size="9.8" fill="#e6a048">Overall</text>
<text x="68.40" y="1010.30" font-size="10" fill="#e6a048" text-anchor="middle">210</text>
<text x="104.67" y="1010.30" font-size="10" fill="#e6a048" text-anchor="middle">208</text>
<text x="140.95" y="1010.30" font-size="10" fill="#e6a048" text-anchor="middle">197</text>
<text x="177.22" y="1010.30" font-size="10" fill="#e6a048" text-anchor="middle">187</text>
<text x="213.50" y="1010.30" font-size="10" fill="#e6a048" text-anchor="middle">180</text>
<text x="249.77" y="1010.30" font-size="10" fill="#e6a048" text-anchor="middle">171</text>
<text x="286.05" y="1010.30" font-size="10" fill="#e6a048" text-anchor="middle">169</text>
<text x="322.32" y="1010.30" font-size="10" fill="#e6a048" text-anchor="middle">156</text>
<text x="358.60" y="1010.30" font-size="10" fill="#e6a048" text-anchor="middle">145</text>
<text x="394.88" y="1010.30" font-size="10" fill="#e6a048" text-anchor="middle">140</text>
<text x="431.15" y="1010.30" font-size="10" fill="#e6a048" text-anchor="middle">121</text>
<text x="467.42" y="1010.30" font-size="10" fill="#e6a048" text-anchor="middle">13</text>
<text x="503.70" y="1010.30" font-size="10" fill="#e6a048" text-anchor="middle">0</text>
<text transform="translate(10.80 1021.50) scale(1.05 1)" font-size="9.8" fill="#2c6a5a">Cohort 1</text>
<text x="68.40" y="1021.50" font-size="10" fill="#2c6a5a" text-anchor="middle">69</text>
<text x="104.67" y="1021.50" font-size="10" fill="#2c6a5a" text-anchor="middle">68</text>
<text x="140.95" y="1021.50" font-size="10" fill="#2c6a5a" text-anchor="middle">66</text>
<text x="177.22" y="1021.50" font-size="10" fill="#2c6a5a" text-anchor="middle">63</text>
<text x="213.50" y="1021.50" font-size="10" fill="#2c6a5a" text-anchor="middle">59</text>
<text x="249.77" y="1021.50" font-size="10" fill="#2c6a5a" text-anchor="middle">56</text>
<text x="286.05" y="1021.50" font-size="10" fill="#2c6a5a" text-anchor="middle">55</text>
<text x="322.32" y="1021.50" font-size="10" fill="#2c6a5a" text-anchor="middle">50</text>
<text x="358.60" y="1021.50" font-size="10" fill="#2c6a5a" text-anchor="middle">49</text>
<text x="394.88" y="1021.50" font-size="10" fill="#2c6a5a" text-anchor="middle">44</text>
<text x="431.15" y="1021.50" font-size="10" fill="#2c6a5a" text-anchor="middle">40</text>
<text x="467.42" y="1021.50" font-size="10" fill="#2c6a5a" text-anchor="middle">6</text>
<text x="503.70" y="1021.50" font-size="10" fill="#2c6a5a" text-anchor="middle">0</text>
<text transform="translate(10.80 1032.70) scale(1.05 1)" font-size="9.8" fill="#a49ecc">Cohort 2</text>
<text x="68.40" y="1032.70" font-size="10" fill="#a49ecc" text-anchor="middle">81</text>
<text x="104.67" y="1032.70" font-size="10" fill="#a49ecc" text-anchor="middle">80</text>
<text x="140.95" y="1032.70" font-size="10" fill="#a49ecc" text-anchor="middle">76</text>
<text x="177.22" y="1032.70" font-size="10" fill="#a49ecc" text-anchor="middle">73</text>
<text x="213.50" y="1032.70" font-size="10" fill="#a49ecc" text-anchor="middle">71</text>
<text x="249.77" y="1032.70" font-size="10" fill="#a49ecc" text-anchor="middle">66</text>
<text x="286.05" y="1032.70" font-size="10" fill="#a49ecc" text-anchor="middle">65</text>
<text x="322.32" y="1032.70" font-size="10" fill="#a49ecc" text-anchor="middle">62</text>
<text x="358.60" y="1032.70" font-size="10" fill="#a49ecc" text-anchor="middle">56</text>
<text x="394.88" y="1032.70" font-size="10" fill="#a49ecc" text-anchor="middle">56</text>
<text x="431.15" y="1032.70" font-size="10" fill="#a49ecc" text-anchor="middle">47</text>
<text x="467.42" y="1032.70" font-size="10" fill="#a49ecc" text-anchor="middle">4</text>
<text x="503.70" y="1032.70" font-size="10" fill="#a49ecc" text-anchor="middle">0</text>
<text transform="translate(10.80 1043.90) scale(1.05 1)" font-size="9.8" fill="#4a4e5a">Cohort 3</text>
<text x="68.40" y="1043.90" font-size="10" fill="#4a4e5a" text-anchor="middle">60</text>
<text x="104.67" y="1043.90" font-size="10" fill="#4a4e5a" text-anchor="middle">60</text>
<text x="140.95" y="1043.90" font-size="10" fill="#4a4e5a" text-anchor="middle">55</text>
<text x="177.22" y="1043.90" font-size="10" fill="#4a4e5a" text-anchor="middle">51</text>
<text x="213.50" y="1043.90" font-size="10" fill="#4a4e5a" text-anchor="middle">50</text>
<text x="249.77" y="1043.90" font-size="10" fill="#4a4e5a" text-anchor="middle">49</text>
<text x="286.05" y="1043.90" font-size="10" fill="#4a4e5a" text-anchor="middle">49</text>
<text x="322.32" y="1043.90" font-size="10" fill="#4a4e5a" text-anchor="middle">44</text>
<text x="358.60" y="1043.90" font-size="10" fill="#4a4e5a" text-anchor="middle">40</text>
<text x="394.88" y="1043.90" font-size="10" fill="#4a4e5a" text-anchor="middle">40</text>
<text x="431.15" y="1043.90" font-size="10" fill="#4a4e5a" text-anchor="middle">34</text>
<text x="467.42" y="1043.90" font-size="10" fill="#4a4e5a" text-anchor="middle">3</text>
<text x="503.70" y="1043.90" font-size="10" fill="#4a4e5a" text-anchor="middle">0</text>
<path d="M68.4,47.1 H83.5 V57 H85 V66 H87 V72 H89.5 V77 H102.5 V87 H119 V102.5 H124.5 V107.5 H134.75 V118.75 H152 V136.25 H186.5 V146 H202.5 V149.5 H218.75 V159.5 H233.5 V167.5 H238 V172.5 H244 V180.5 H252.5 V200 H256 V209 H303.75 V216 H440.4" fill="none" stroke="#1f5e4e" stroke-width="1.8" stroke-linejoin="miter" stroke-linecap="butt"/>
<line x1="426.00" y1="216.00" x2="426.00" y2="213.30" stroke="#1f5e4e" stroke-width="1.1"/>
<line x1="438.00" y1="216.00" x2="438.00" y2="213.30" stroke="#1f5e4e" stroke-width="1.1"/>
<path d="M68.4,47.1 H83 V60 H85 V75 H86 V78.75 H98.5 V86 H102 V100 H103 V111 H117.25 V118.75 H118.5 V141.25 H133.5 V147.5 H136 V155 H138.75 V162 H153.75 V168.75 H165 V176.25 H167.5 V183 H171.25 V190 H230 V197.5 H236.25 V206.5 H267.5 V214.8 H427" fill="none" stroke="#8a7ec2" stroke-width="1.8" stroke-linejoin="miter" stroke-linecap="butt"/>
<line x1="335.00" y1="214.80" x2="335.00" y2="212.10" stroke="#8a7ec2" stroke-width="1.1"/>
<line x1="347.00" y1="214.80" x2="347.00" y2="212.10" stroke="#8a7ec2" stroke-width="1.1"/>
<line x1="357.00" y1="214.80" x2="357.00" y2="212.10" stroke="#8a7ec2" stroke-width="1.1"/>
<line x1="411.00" y1="214.80" x2="411.00" y2="212.10" stroke="#8a7ec2" stroke-width="1.1"/>
<line x1="417.30" y1="214.80" x2="417.30" y2="212.10" stroke="#8a7ec2" stroke-width="1.1"/>
<line x1="420.50" y1="214.80" x2="420.50" y2="212.10" stroke="#8a7ec2" stroke-width="1.1"/>
<path d="M68.4,47.1 H84 V51 H85.5 V60 H86.5 V65 H89 V70.5 H97.5 V78 H103 V102.8 H119.75 V113.75 H134.75 V120 H152.25 V137.5 H171 V149.5 H218.75 V158.75 H236.25 V170 H262 V181.25 H447.3" fill="none" stroke="#3c4558" stroke-width="1.8" stroke-linejoin="miter" stroke-linecap="butt"/>
<line x1="332.00" y1="181.25" x2="332.00" y2="178.55" stroke="#3c4558" stroke-width="1.1"/>
<line x1="392.50" y1="181.25" x2="392.50" y2="178.55" stroke="#3c4558" stroke-width="1.1"/>
<line x1="410.40" y1="181.25" x2="410.40" y2="178.55" stroke="#3c4558" stroke-width="1.1"/>
<line x1="426.00" y1="181.25" x2="426.00" y2="178.55" stroke="#3c4558" stroke-width="1.1"/>
<line x1="438.00" y1="181.25" x2="438.00" y2="178.55" stroke="#3c4558" stroke-width="1.1"/>
<line x1="445.00" y1="181.25" x2="445.00" y2="178.55" stroke="#3c4558" stroke-width="1.1"/>
<path d="M68.4,47.1 H79.5 V48.5 H83.5 V58 H84.5 V68 H85.5 V75.5 H91 V76.5 H97 V78 H100.5 V86 H103 V101 H118.5 V104 H119.5 V112 H120.5 V118.5 H133.5 V122 H135 V131 H151 V146.3 H165 V150 H169 V155 H171.3 V158.8 H186 V161.3 H201 V162.5 H216 V166 H225 V168.5 H231 V175 H235 V180 H241 V184 H251 V187.5 H254 V195 H258 V200 H267 V202.8 H303.75 V206.3 H445" fill="none" stroke="#dc8c1e" stroke-width="1.8" stroke-linejoin="miter" stroke-linecap="butt"/>
<line x1="292.50" y1="202.80" x2="292.50" y2="200.10" stroke="#dc8c1e" stroke-width="1.1"/>
<line x1="330.00" y1="206.30" x2="330.00" y2="203.60" stroke="#dc8c1e" stroke-width="1.1"/>
<line x1="334.00" y1="206.30" x2="334.00" y2="203.60" stroke="#dc8c1e" stroke-width="1.1"/>
<line x1="347.00" y1="206.30" x2="347.00" y2="203.60" stroke="#dc8c1e" stroke-width="1.1"/>
<line x1="357.00" y1="206.30" x2="357.00" y2="203.60" stroke="#dc8c1e" stroke-width="1.1"/>
<line x1="390.00" y1="206.30" x2="390.00" y2="203.60" stroke="#dc8c1e" stroke-width="1.1"/>
<line x1="408.70" y1="206.30" x2="408.70" y2="203.60" stroke="#dc8c1e" stroke-width="1.1"/>
<line x1="418.00" y1="206.30" x2="418.00" y2="203.60" stroke="#dc8c1e" stroke-width="1.1"/>
<line x1="424.80" y1="206.30" x2="424.80" y2="203.60" stroke="#dc8c1e" stroke-width="1.1"/>
<line x1="433.00" y1="206.30" x2="433.00" y2="203.60" stroke="#dc8c1e" stroke-width="1.1"/>
<line x1="438.00" y1="206.30" x2="438.00" y2="203.60" stroke="#dc8c1e" stroke-width="1.1"/>
<line x1="441.00" y1="206.30" x2="441.00" y2="203.60" stroke="#dc8c1e" stroke-width="1.1"/>
<line x1="443.50" y1="206.30" x2="443.50" y2="203.60" stroke="#dc8c1e" stroke-width="1.1"/>
<path d="M68.4,400.1 H71 V402.7 H84 V410 H85.5 V416.3 H94.25 V419.2 H100.6 V447 H118 V458.6 H134.5 V470 H137 V477.8 H140 V481.6 H150.8 V497.2 H167 V513.7 H201.6 V523.3 H219 V527.8 H235.4 V533.7 H251.8 V538.8 H260.4 V544 H263.5 V548 H265.5 V552.5 H267.5 V556.25 H270 V561.25 H272 V570 H285 V574.5 H320 V580.2 H455" fill="none" stroke="#1f5e4e" stroke-width="1.8" stroke-linejoin="miter" stroke-linecap="butt"/>
<line x1="170.00" y1="513.70" x2="170.00" y2="511.00" stroke="#1f5e4e" stroke-width="1.1"/>
<line x1="178.75" y1="513.70" x2="178.75" y2="511.00" stroke="#1f5e4e" stroke-width="1.1"/>
<line x1="217.50" y1="523.30" x2="217.50" y2="520.60" stroke="#1f5e4e" stroke-width="1.1"/>
<line x1="220.00" y1="527.80" x2="220.00" y2="525.10" stroke="#1f5e4e" stroke-width="1.1"/>
<line x1="223.75" y1="527.80" x2="223.75" y2="525.10" stroke="#1f5e4e" stroke-width="1.1"/>
<line x1="425.60" y1="580.20" x2="425.60" y2="577.50" stroke="#1f5e4e" stroke-width="1.1"/>
<line x1="432.00" y1="580.20" x2="432.00" y2="577.50" stroke="#1f5e4e" stroke-width="1.1"/>
<line x1="435.00" y1="580.20" x2="435.00" y2="577.50" stroke="#1f5e4e" stroke-width="1.1"/>
<line x1="440.40" y1="580.20" x2="440.40" y2="577.50" stroke="#1f5e4e" stroke-width="1.1"/>
<path d="M68.4,400.1 H86 V452.8 H101.5 V467.5 H102.5 V476.5 H112.5 V483 H116.5 V490.8 H118.5 V502.3 H135.8 V513.8 H138 V517 H149.5 V538.75 H171.25 V542.3 H186 V550 H201.6 V553.5 H205 V557.9 H235.4 V562.5 H249 V566 H252.5 V571 H284 V574.5 H322 V580.2 H409 V588.3 H415.5 V595.7 H440.4 V592.5" fill="none" stroke="#8a7ec2" stroke-width="1.8" stroke-linejoin="miter" stroke-linecap="butt"/>
<line x1="162.50" y1="538.75" x2="162.50" y2="536.05" stroke="#8a7ec2" stroke-width="1.1"/>
<line x1="252.50" y1="566.00" x2="252.50" y2="563.30" stroke="#8a7ec2" stroke-width="1.1"/>
<line x1="308.75" y1="574.50" x2="308.75" y2="571.80" stroke="#8a7ec2" stroke-width="1.1"/>
<line x1="350.00" y1="580.20" x2="350.00" y2="577.50" stroke="#8a7ec2" stroke-width="1.1"/>
<line x1="440.40" y1="595.70" x2="440.40" y2="593.00" stroke="#8a7ec2" stroke-width="1.1"/>
<path d="M68.4,400.1 H84 V410 H86 V432.5 H101.75 V446.2 H109.5 V451 H113.3 V455.8 H118.1 V476 H136 V491.3 H164 V495.5 H185 V504 H186.5 V510 H188 V513.7 H201.6 V528.4 H232 V533.6 H268 V539.7 H292.5 V546.25 H308.75 V553 H347 V560 H357.5 V567 H460" fill="none" stroke="#3c4558" stroke-width="1.8" stroke-linejoin="miter" stroke-linecap="butt"/>
<line x1="147.50" y1="491.30" x2="147.50" y2="488.60" stroke="#3c4558" stroke-width="1.1"/>
<line x1="171.25" y1="495.50" x2="171.25" y2="492.80" stroke="#3c4558" stroke-width="1.1"/>
<line x1="178.75" y1="495.50" x2="178.75" y2="492.80" stroke="#3c4558" stroke-width="1.1"/>
<line x1="190.00" y1="513.70" x2="190.00" y2="511.00" stroke="#3c4558" stroke-width="1.1"/>
<line x1="247.50" y1="533.60" x2="247.50" y2="530.90" stroke="#3c4558" stroke-width="1.1"/>
<line x1="267.50" y1="533.60" x2="267.50" y2="530.90" stroke="#3c4558" stroke-width="1.1"/>
<line x1="345.00" y1="553.00" x2="345.00" y2="550.30" stroke="#3c4558" stroke-width="1.1"/>
<line x1="404.70" y1="567.00" x2="404.70" y2="564.30" stroke="#3c4558" stroke-width="1.1"/>
<line x1="422.90" y1="567.00" x2="422.90" y2="564.30" stroke="#3c4558" stroke-width="1.1"/>
<line x1="440.40" y1="567.00" x2="440.40" y2="564.30" stroke="#3c4558" stroke-width="1.1"/>
<line x1="450.50" y1="567.00" x2="450.50" y2="564.30" stroke="#3c4558" stroke-width="1.1"/>
<line x1="454.50" y1="567.00" x2="454.50" y2="564.30" stroke="#3c4558" stroke-width="1.1"/>
<line x1="459.20" y1="567.00" x2="459.20" y2="564.30" stroke="#3c4558" stroke-width="1.1"/>
<path d="M68.4,400.1 H84 V410 H86 V434.6 H100.8 V451 H105 V457.5 H115 V463.5 H118.5 V479 H135.5 V495 H139 V497.5 H150.6 V510 H166.8 V514 H168.5 V517.3 H183.5 V520 H186 V523 H189 V525.8 H201 V535.4 H204 V537 H216 V538.8 H232 V540.5 H235.4 V544 H247.5 V545.7 H252.7 V548.3 H259.6 V550 H266.5 V554.4 H268.5 V556.25 H270 V561.25 H283.5 V565.5 H308.5 V568.75 H323.5 V572.5 H347 V574.5 H358 V576.5 H410 V579 H416 V580.8 H460 V578.5" fill="none" stroke="#dc8c1e" stroke-width="1.8" stroke-linejoin="miter" stroke-linecap="butt"/>
<line x1="162.50" y1="510.00" x2="162.50" y2="507.30" stroke="#dc8c1e" stroke-width="1.1"/>
<line x1="173.75" y1="517.30" x2="173.75" y2="514.60" stroke="#dc8c1e" stroke-width="1.1"/>
<line x1="177.50" y1="517.30" x2="177.50" y2="514.60" stroke="#dc8c1e" stroke-width="1.1"/>
<line x1="180.00" y1="517.30" x2="180.00" y2="514.60" stroke="#dc8c1e" stroke-width="1.1"/>
<line x1="217.50" y1="538.80" x2="217.50" y2="536.10" stroke="#dc8c1e" stroke-width="1.1"/>
<line x1="221.25" y1="538.80" x2="221.25" y2="536.10" stroke="#dc8c1e" stroke-width="1.1"/>
<line x1="225.00" y1="538.80" x2="225.00" y2="536.10" stroke="#dc8c1e" stroke-width="1.1"/>
<line x1="308.75" y1="568.75" x2="308.75" y2="566.05" stroke="#dc8c1e" stroke-width="1.1"/>
<line x1="363.75" y1="576.50" x2="363.75" y2="573.80" stroke="#dc8c1e" stroke-width="1.1"/>
<line x1="376.25" y1="576.50" x2="376.25" y2="573.80" stroke="#dc8c1e" stroke-width="1.1"/>
<line x1="405.40" y1="576.50" x2="405.40" y2="573.80" stroke="#dc8c1e" stroke-width="1.1"/>
<path d="M68.4,742.3 H73.5 V745.3 H118.5 V746.25 H133.5 V748.5 H151 V749.8 H162 V751 H177.5 V754.6 H197 V758 H224.5 V761.5 H231 V765 H233.5 V768 H290 V771.5 H306 V781 H359 V784.6 H386 V787.7 H392 V790.8 H403 V794.6 H411.5 V800.3 H478.8" fill="none" stroke="#1f5e4e" stroke-width="1.8" stroke-linejoin="miter" stroke-linecap="butt"/>
<line x1="210.20" y1="758.00" x2="210.20" y2="755.30" stroke="#1f5e4e" stroke-width="1.1"/>
<line x1="379.20" y1="784.60" x2="379.20" y2="781.90" stroke="#1f5e4e" stroke-width="1.1"/>
<line x1="452.00" y1="800.30" x2="452.00" y2="797.60" stroke="#1f5e4e" stroke-width="1.1"/>
<line x1="464.40" y1="800.30" x2="464.40" y2="797.60" stroke="#1f5e4e" stroke-width="1.1"/>
<line x1="465.70" y1="800.30" x2="465.70" y2="797.60" stroke="#1f5e4e" stroke-width="1.1"/>
<line x1="469.20" y1="800.30" x2="469.20" y2="797.60" stroke="#1f5e4e" stroke-width="1.1"/>
<line x1="472.70" y1="800.30" x2="472.70" y2="797.60" stroke="#1f5e4e" stroke-width="1.1"/>
<line x1="476.10" y1="800.30" x2="476.10" y2="797.60" stroke="#1f5e4e" stroke-width="1.1"/>
<line x1="478.70" y1="800.30" x2="478.70" y2="797.60" stroke="#1f5e4e" stroke-width="1.1"/>
<path d="M68.4,742.3 H113 V745.5 H120 V750 H150 V755 H162 V757 H187.5 V764.2 H223 V766.5 H248 V771 H290 V775 H300 V777.5 H325.5 V785 H343 V791.25 H387 V793.8 H407.7 V795.4 H412 V800 H417 V805 H443 V808.8 H478" fill="none" stroke="#8a7ec2" stroke-width="1.8" stroke-linejoin="miter" stroke-linecap="butt"/>
<line x1="395.40" y1="793.80" x2="395.40" y2="791.10" stroke="#8a7ec2" stroke-width="1.1"/>
<line x1="398.00" y1="793.80" x2="398.00" y2="791.10" stroke="#8a7ec2" stroke-width="1.1"/>
<line x1="400.50" y1="793.80" x2="400.50" y2="791.10" stroke="#8a7ec2" stroke-width="1.1"/>
<path d="M68.4,742.3 H117 V746 H135 V748 H150 V750 H161 V755 H166 V760 H187.5 V764.5 H228 V767.5 H255 V768.75 H289 V771.5 H306.5 V778.75 H312 V782.5 H319.5 V790.5 H343.5 V794.6 H346 V798.5 H354.6 V802.3 H441" fill="none" stroke="#3c4558" stroke-width="1.8" stroke-linejoin="miter" stroke-linecap="butt"/>
<line x1="116.00" y1="742.30" x2="116.00" y2="739.60" stroke="#3c4558" stroke-width="1.1"/>
<line x1="162.00" y1="755.00" x2="162.00" y2="752.30" stroke="#3c4558" stroke-width="1.1"/>
<line x1="198.70" y1="764.50" x2="198.70" y2="761.80" stroke="#3c4558" stroke-width="1.1"/>
<line x1="405.40" y1="802.30" x2="405.40" y2="799.60" stroke="#3c4558" stroke-width="1.1"/>
<path d="M68.4,742.3 H116 V745 H122 V747.5 H141 V751 H162 V754.4 H177 V757 H197 V759.2 H222.7 V762 H226 V764 H230 V766 H234 V768.5 H240 V769.5 H288 V773.5 H301 V777 H311 V779 H323 V783 H335 V786 H344 V790 H355.4 V791.5 H386 V793 H398.5 V795.4 H406 V797.7 H411.5 V800.5 H446 V805.8 H483 V803" fill="none" stroke="#dc8c1e" stroke-width="1.8" stroke-linejoin="miter" stroke-linecap="butt"/>
<line x1="81.40" y1="742.30" x2="81.40" y2="739.60" stroke="#dc8c1e" stroke-width="1.1"/>
<line x1="121.80" y1="745.00" x2="121.80" y2="742.30" stroke="#dc8c1e" stroke-width="1.1"/>
<line x1="148.70" y1="751.00" x2="148.70" y2="748.30" stroke="#dc8c1e" stroke-width="1.1"/>
<line x1="173.70" y1="754.40" x2="173.70" y2="751.70" stroke="#dc8c1e" stroke-width="1.1"/>
<line x1="379.20" y1="791.50" x2="379.20" y2="788.80" stroke="#dc8c1e" stroke-width="1.1"/>
<line x1="467.00" y1="805.80" x2="467.00" y2="803.10" stroke="#dc8c1e" stroke-width="1.1"/>
<line x1="470.00" y1="805.80" x2="470.00" y2="803.10" stroke="#dc8c1e" stroke-width="1.1"/>
<line x1="473.00" y1="805.80" x2="473.00" y2="803.10" stroke="#dc8c1e" stroke-width="1.1"/>
<line x1="477.00" y1="805.80" x2="477.00" y2="803.10" stroke="#dc8c1e" stroke-width="1.1"/>
<path d="M68.4,400.1 H84 V410 H86 V432.5 H101.75" fill="none" stroke="#3c4558" stroke-width="1.8" stroke-linejoin="miter" stroke-linecap="butt"/>
</svg>
</body></html>
